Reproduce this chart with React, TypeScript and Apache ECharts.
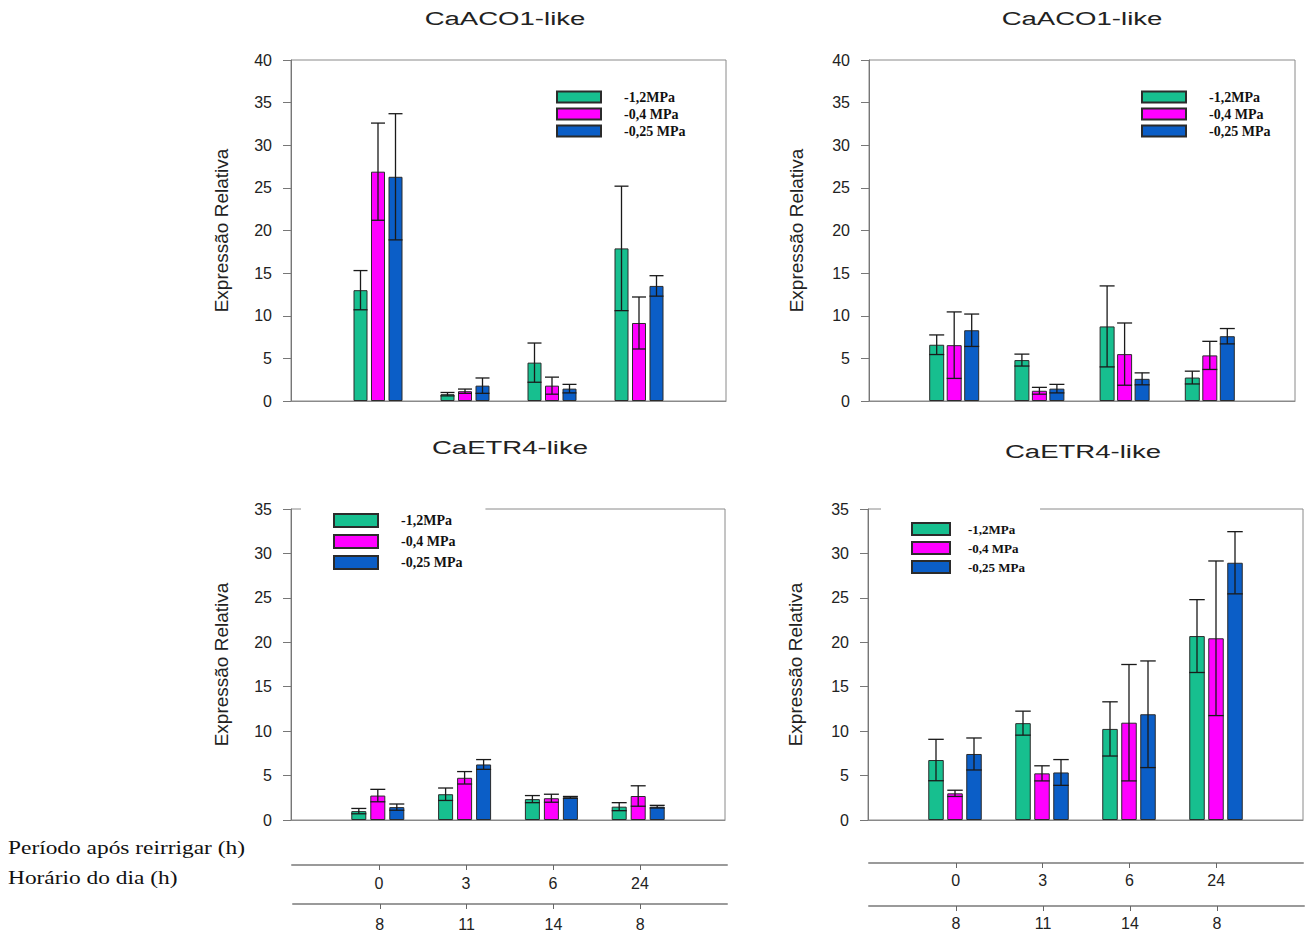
import React, { useEffect, useRef } from 'react';
import * as echarts from 'echarts';

// ---------- data ----------
const periodLabels = ['0', '3', '6', '24'];
const hourLabels = ['8', '11', '14', '8'];
const seriesNames = ['-1,2MPa', '-0,4 MPa', '-0,25 MPa'];
const yAxisName = 'Expressão Relativa';
const rowLabelPeriod = 'Período após reirrigar (h)';
const rowLabelHour = 'Horário do dia (h)';

// Panel A: CaACO1-like (left)
const aco1A_mean_12 = [13.0, 0.8, 4.5, 17.9];
const aco1A_err_12 = [2.3, 0.2, 2.3, 7.3];
const aco1A_mean_04 = [26.9, 1.15, 1.8, 9.15];
const aco1A_err_04 = [5.7, 0.25, 1.0, 3.05];
const aco1A_mean_025 = [26.3, 1.8, 1.45, 13.5];
const aco1A_err_025 = [7.4, 0.9, 0.5, 1.2];

// Panel B: CaACO1-like (right)
const aco1B_mean_12 = [6.6, 4.8, 8.75, 2.75];
const aco1B_err_12 = [1.15, 0.7, 4.75, 0.75];
const aco1B_mean_04 = [6.55, 1.2, 5.5, 5.35];
const aco1B_err_04 = [3.9, 0.4, 3.65, 1.65];
const aco1B_mean_025 = [8.3, 1.45, 2.6, 7.6];
const aco1B_err_025 = [1.9, 0.5, 0.7, 0.9];

// Panel C: CaETR4-like (left)
const etr4C_mean_12 = [1.0, 2.9, 2.35, 1.5];
const etr4C_err_12 = [0.3, 0.7, 0.4, 0.45];
const etr4C_mean_04 = [2.75, 4.75, 2.45, 2.7];
const etr4C_err_04 = [0.7, 0.7, 0.45, 1.15];
const etr4C_mean_025 = [1.45, 6.25, 2.55, 1.5];
const etr4C_err_025 = [0.35, 0.55, 0.1, 0.15];

// Panel D: CaETR4-like (right)
const etr4D_mean_12 = [6.75, 10.9, 10.25, 20.7];
const etr4D_err_12 = [2.33, 1.35, 3.05, 4.1];
const etr4D_mean_04 = [3.0, 5.25, 10.95, 20.45];
const etr4D_err_04 = [0.35, 0.85, 6.55, 8.7];
const etr4D_mean_025 = [7.43, 5.35, 11.9, 28.95];
const etr4D_err_025 = [1.8, 1.45, 6.0, 3.5];

// ---------- styling / layout ----------
const COLORS = ['#17bf8f', '#ff00ff', '#0b5ec7'];
const SANS = 'Liberation Sans';
const SERIF = 'Liberation Serif';

const panels = [
  {
    title: 'CaACO1-like', titleX: 505, titleY: 19,
    means: [aco1A_mean_12, aco1A_mean_04, aco1A_mean_025],
    errs: [aco1A_err_12, aco1A_err_04, aco1A_err_025],
    yMax: 40,
    grid: { left: 291, top: 60, width: 435, height: 341 },
    barW: 14, gapPx: 3.5, nameGap: 60,
    legend: { left: 551, top: 85, padding: [5, 8, 5, 5], itemWidth: 44, itemHeight: 11, itemGap: 3, fontSize: 14, textPad: 18 },
  },
  {
    title: 'CaACO1-like', titleX: 1082, titleY: 19,
    means: [aco1B_mean_12, aco1B_mean_04, aco1B_mean_025],
    errs: [aco1B_err_12, aco1B_err_04, aco1B_err_025],
    yMax: 40,
    grid: { left: 869, top: 60, width: 426, height: 341 },
    barW: 15, gapPx: 2.5, nameGap: 63,
    legend: { left: 1136, top: 85, padding: [5, 8, 5, 5], itemWidth: 44, itemHeight: 11, itemGap: 3, fontSize: 14, textPad: 18 },
  },
  {
    title: 'CaETR4-like', titleX: 510, titleY: 448,
    means: [etr4C_mean_12, etr4C_mean_04, etr4C_mean_025],
    errs: [etr4C_err_12, etr4C_err_04, etr4C_err_025],
    yMax: 35,
    grid: { left: 291, top: 509, width: 434, height: 311 },
    barW: 15, gapPx: 4, nameGap: 60,
    legend: { left: 301, top: 503, padding: [10, 23, 5, 32], itemWidth: 44, itemHeight: 13, itemGap: 6, fontSize: 14, textPad: 18 },
  },
  {
    title: 'CaETR4-like', titleX: 1083, titleY: 452,
    means: [etr4D_mean_12, etr4D_mean_04, etr4D_mean_025],
    errs: [etr4D_err_12, etr4D_err_04, etr4D_err_025],
    yMax: 35,
    grid: { left: 868, top: 509, width: 435, height: 311 },
    barW: 15.5, gapPx: 3.5, nameGap: 63,
    legend: { left: 881, top: 503, padding: [19, 15, 5, 30], itemWidth: 38, itemHeight: 12, itemGap: 5, fontSize: 13, textPad: 13 },
  },
];

const bottomAxes = [
  { labels: periodLabels, left: 292, width: 435, line: 865, margin: 10 },
  { labels: hourLabels, left: 293, width: 434, line: 906, margin: 12 },
  { labels: periodLabels, left: 869, width: 434, line: 863, margin: 9 },
  { labels: hourLabels, left: 869, width: 437, line: 906, margin: 9 },
];

function buildOption() {
  const grid: any[] = [];
  const xAxis: any[] = [];
  const yAxis: any[] = [];
  const series: any[] = [];
  const legend: any[] = [];
  const graphic: any[] = [];

  panels.forEach((p, pi) => {
    grid.push({ ...p.grid, show: true, borderColor: '#8a8a8a', borderWidth: 1, backgroundColor: 'transparent' });
    xAxis.push({
      type: 'category', gridIndex: pi, data: ['', ...periodLabels, ''], boundaryGap: false,
      axisLine: { lineStyle: { color: '#8a8a8a', width: 1 } },
      axisTick: { show: false }, axisLabel: { show: false }, splitLine: { show: false },
    });
    yAxis.push({
      type: 'value', gridIndex: pi, min: 0, max: p.yMax, interval: 5,
      name: yAxisName, nameLocation: 'middle', nameGap: p.nameGap,
      nameTextStyle: { fontFamily: SANS, fontSize: 19, color: '#222' },
      axisLine: { show: true, lineStyle: { color: '#777' } },
      axisTick: { show: true, length: 8, lineStyle: { color: '#777' } },
      axisLabel: { fontFamily: SANS, fontSize: 16, color: '#222', margin: 19 },
      splitLine: { show: false },
    });
    const step = p.barW + p.gapPx;
    p.means.forEach((vals, si) => {
      series.push({
        type: 'bar', name: seriesNames[si], xAxisIndex: pi, yAxisIndex: pi,
        data: vals.map((v, i) => [i + 1, v]),
        barWidth: p.barW, barGap: `${(p.gapPx / p.barW) * 100}%`,
        itemStyle: { color: COLORS[si], borderColor: '#2b2b2b', borderWidth: 1 },
        z: 2,
      });
    });
    p.means.forEach((vals, si) => {
      const errs = p.errs[si];
      const offset = (si - 1) * step;
      const half = p.barW / 2;
      series.push({
        type: 'custom', name: 'err-' + pi + '-' + si, xAxisIndex: pi, yAxisIndex: pi,
        data: vals.map((v, i) => [i + 1, v - errs[i], v + errs[i]]),
        encode: { x: 0, y: [1, 2] },
        z: 5, silent: true,
        renderItem: (params: any, api: any) => {
          const x = api.value(0);
          const lo = api.coord([x, api.value(1)]);
          const hi = api.coord([x, api.value(2)]);
          const cx = lo[0] + offset;
          const style = { stroke: '#1a1a1a', lineWidth: 1.3 };
          return {
            type: 'group',
            children: [
              { type: 'line', shape: { x1: cx, y1: lo[1], x2: cx, y2: hi[1] }, style },
              { type: 'line', shape: { x1: cx - half, y1: hi[1], x2: cx + half, y2: hi[1] }, style },
              { type: 'line', shape: { x1: cx - half, y1: lo[1], x2: cx + half, y2: lo[1] }, style },
            ],
          };
        },
      });
    });
    const L = p.legend;
    legend.push({
      data: seriesNames, orient: 'vertical', left: L.left, top: L.top, padding: L.padding,
      itemWidth: L.itemWidth, itemHeight: L.itemHeight, itemGap: L.itemGap, icon: 'rect',
      backgroundColor: '#ffffff', selectedMode: false, z: 10,
      textStyle: { fontFamily: SERIF, fontWeight: 'bold', fontSize: L.fontSize, color: '#111', padding: [0, 0, 0, L.textPad] },
    });
    graphic.push({
      type: 'text', x: p.titleX, y: p.titleY, scaleX: 1.45, scaleY: 1,
      style: {
        text: p.title, fontFamily: SANS, fontSize: 19, fill: '#222',
        align: 'center', verticalAlign: 'middle', textAlign: 'center', textVerticalAlign: 'middle',
      },
    });
  });

  bottomAxes.forEach((b, bi) => {
    const gi = panels.length + bi;
    grid.push({ left: b.left, width: b.width, top: b.line - 10, height: 10, show: false });
    xAxis.push({
      type: 'category', gridIndex: gi, data: ['', ...b.labels, ''], boundaryGap: false,
      axisLine: { lineStyle: { color: '#9a9a9a', width: 2 } },
      axisTick: { show: true, length: 5, interval: (i: number) => i >= 1 && i <= 4, lineStyle: { color: '#666' } },
      axisLabel: { interval: 0, fontFamily: SANS, fontSize: 16, color: '#222', margin: b.margin },
      splitLine: { show: false },
    });
    yAxis.push({ type: 'value', gridIndex: gi, show: false, min: 0, max: 1 });
  });

  graphic.push({
    type: 'text', x: 8, y: 848, scaleX: 1.3, scaleY: 1,
    style: { text: rowLabelPeriod, fontFamily: SERIF, fontSize: 18, fill: '#111', align: 'left', verticalAlign: 'middle', textAlign: 'left', textVerticalAlign: 'middle' },
  });
  graphic.push({
    type: 'text', x: 8, y: 878, scaleX: 1.3, scaleY: 1,
    style: { text: rowLabelHour, fontFamily: SERIF, fontSize: 18, fill: '#111', align: 'left', verticalAlign: 'middle', textAlign: 'left', textVerticalAlign: 'middle' },
  });

  return { animation: false, backgroundColor: '#ffffff', grid, xAxis, yAxis, series, legend, graphic };
}

export default function App() {
  const ref = useRef<HTMLDivElement>(null);
  useEffect(() => {
    if (!ref.current) return;
    const chart = echarts.init(ref.current, undefined, { renderer: 'svg' });
    chart.setOption(buildOption() as any);
    return () => chart.dispose();
  }, []);
  return (
    <div
      ref={ref}
      style={{ position: 'fixed', left: 0, top: 0, width: 1307, height: 932, background: '#fff' }}
    />
  );
}
